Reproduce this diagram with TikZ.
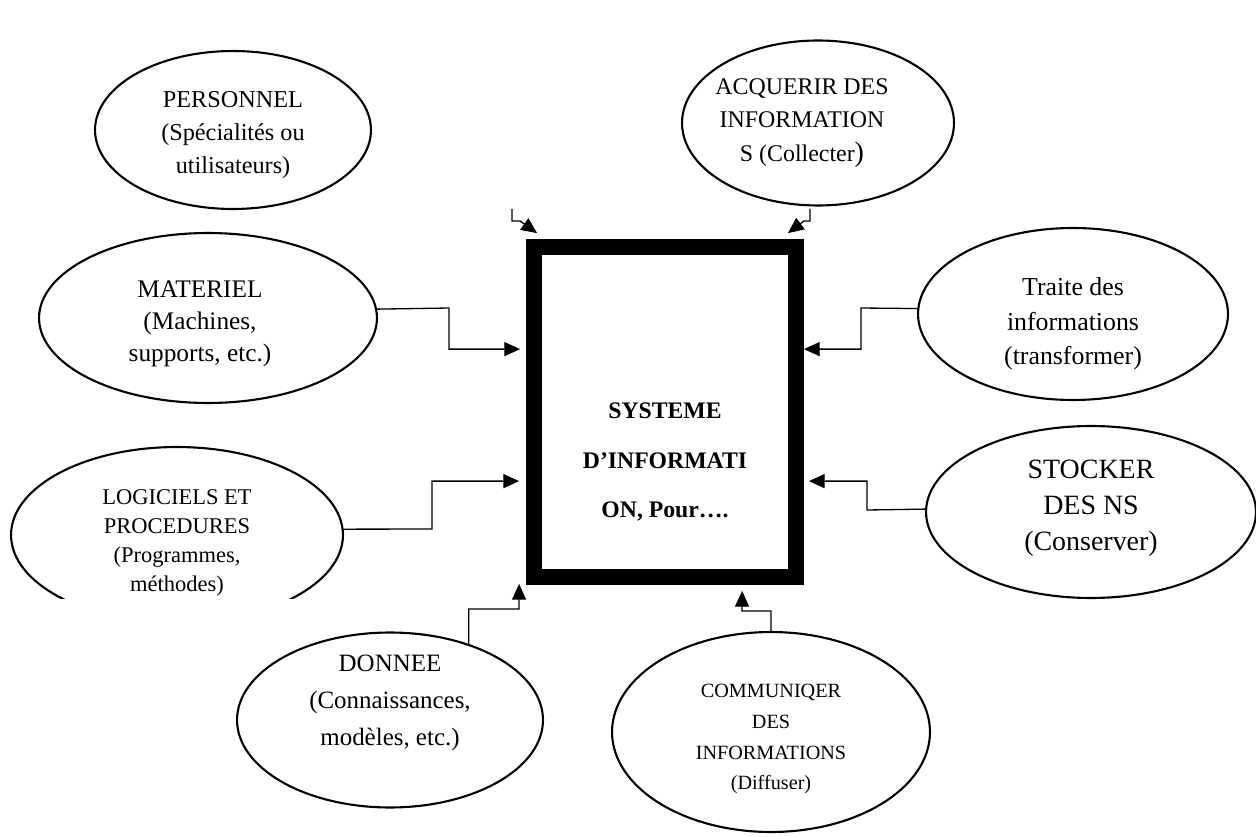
\documentclass[tikz,border=0pt]{standalone}
\usepackage{fontspec}
\setmainfont{Liberation Serif}
\usetikzlibrary{calc, shapes.geometric, arrows.meta}

\begin{document}
\begin{tikzpicture}[x=0.02cm, y=-0.02cm,
    bubble/.style={draw, ellipse, line width=1.2pt, inner sep=0pt},
    words/.style={align=center, inner sep=0pt},
    link/.style={-{Triangle[length=9pt, width=8pt]}, line width=0.75pt}]
  \useasboundingbox (0,0) rectangle (1256,837);

  % central system
  \node[draw, line width=9pt, minimum width=5.24cm, minimum height=6.6cm] (sys) at (665,412) {};
  \node[words, font={\bfseries\fontsize{13.5}{28}\selectfont}] (sysTxt) at ($(sys)+(0,50)$)
    {SYSTEME\\D’INFORMATI\\ON, Pour….};

  % what the system is made of and what it does
  \node[bubble, minimum width=5.52cm, minimum height=3.16cm] (per) at (233,130) {};
  \node[words, font={\fontsize{13.8}{18.7}\selectfont}] (perTxt) at ($(per)+(0,5)$)
    {PERSONNEL\\(Spécialités ou\\utilisateurs)};
  \node[bubble, minimum width=5.44cm, minimum height=3.3cm] (acq) at (818,123) {};
  \node[words, font={\fontsize{13.6}{19.3}\selectfont}] (acqTxt) at ($(acq)+(-16,0)$)
    {ACQUERIR DES\\INFORMATION\\S (Collecter{\fontsize{16}{19.3}\selectfont )}};
  \node[bubble, minimum width=6.76cm, minimum height=3.4cm] (mat) at (208,318) {};
  \node[words, font={\fontsize{14.4}{18.2}\selectfont}] (matTxt) at ($(mat)+(-8,6)$)
    {MATERIEL\\(Machines,\\supports, etc.)};
  \node[bubble, minimum width=6.2cm, minimum height=3.44cm] (trt) at (1073,314) {};
  \node[words, font={\fontsize{14.7}{19.8}\selectfont}] (trtTxt) at ($(trt)+(0,10)$)
    {Traite des\\informations\\(transformer)};
  \begin{scope}
    \clip (0,0) rectangle (1256,598);
    \node[bubble, minimum width=6.64cm, minimum height=3.52cm] (log) at (177,535) {};
    \node[words, font={\fontsize{12.8}{16.6}\selectfont}] (logTxt) at ($(log)+(0,8)$)
      {LOGICIELS ET\\PROCEDURES\\(Programmes,\\méthodes)};
  \end{scope}
  \node[bubble, minimum width=6.6cm, minimum height=3.44cm] (sto) at (1091,512) {};
  \node[words, font={\fontsize{15.9}{20.4}\selectfont}] (stoTxt) at ($(sto)+(0,-4)$)
    {STOCKER\\DES NS\\(Conserver)};
  \node[bubble, minimum width=6.12cm, minimum height=3.5cm] (don) at (390,720) {};
  \node[words, font={\fontsize{14.2}{21}\selectfont}] (donTxt) at ($(don)+(0,-17)$)
    {DONNEE\\(Connaissances,\\modèles, etc.)};
  \node[bubble, minimum width=6.36cm, minimum height=4cm] (com) at (771,732) {};
  \node[words, font={\fontsize{11.5}{17.6}\selectfont}] (comTxt) at ($(com)+(0,7)$)
    {COMMUNIQER\\DES\\INFORMATIONS\\(Diffuser)};

  \coordinate (perFoot) at (512,209);
  \coordinate (acqFoot) at (810,209);

  % connectors
  \draw[link] (perFoot) -- ++(0,12) -- ++(8,0) -- ($(sys.north west)+(11,-6)$);
  \draw[link] (acqFoot) -- ++(0,12) -- ++(-6,0) -- ($(sys.north east)+(-16,-6)$);
  \draw[link] (mat.3) -- (449,308) |- ($(sys.north west)+(-6,110)$);
  \draw[link] (trt.178) -- (861,308) |- ($(sys.north east)+(0,110)$);
  \draw[link] (log.2) -- (432,529) |- ($(sys.north west)+(-7,242)$);
  \draw[link] (sto.179) -- (867,510) |- ($(sys.north east)+(5,242)$);
  \draw[link] (don.44) |- (519,609) -- ($(sys.south west)+(-7,-1)$);
  \draw[link] (com.north) |- (742,611) -- ($(sys.south west)+(216,6)$);
\end{tikzpicture}
\end{document}
